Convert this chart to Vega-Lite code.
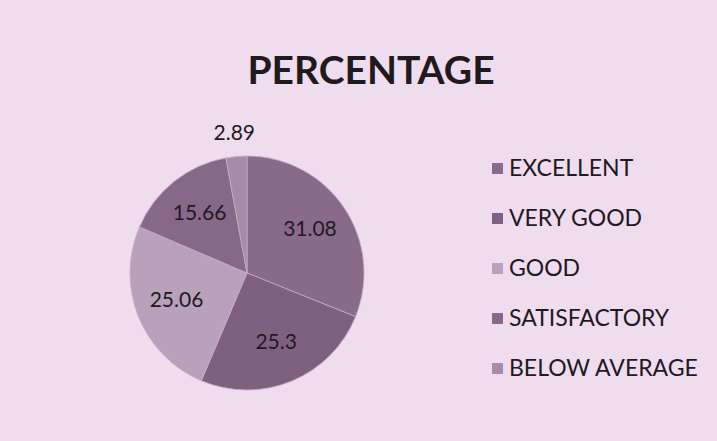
{
  "$schema": "https://vega.github.io/schema/vega-lite/v6.json",
  "width": 234,
  "height": 234,
  "autosize": "none",
  "padding": {"left": 130, "top": 156, "right": 353, "bottom": 51},
  "background": "#efdcef",
  "title": {
    "text": "PERCENTAGE",
    "font": "Lato",
    "fontWeight": "bold",
    "fontSize": 39,
    "color": "#1e1a1e",
    "anchor": "middle",
    "dx": 124,
    "offset": 31
  },
  "data": {
    "values": [
      {"category": "EXCELLENT", "value": 31.08, "order": 1},
      {"category": "VERY GOOD", "value": 25.3, "order": 2},
      {"category": "GOOD", "value": 25.06, "order": 3},
      {"category": "SATISFACTORY", "value": 15.66, "order": 4},
      {"category": "BELOW AVERAGE", "value": 2.89, "order": 5}
    ]
  },
  "encoding": {
    "theta": {"field": "value", "type": "quantitative", "stack": true},
    "order": {"field": "order", "type": "quantitative"}
  },
  "layer": [
    {
      "mark": {"type": "arc", "outerRadius": 117, "stroke": "#c4aec4", "strokeWidth": 0.8},
      "encoding": {
        "color": {
          "field": "category",
          "type": "nominal",
          "scale": {
            "domain": ["EXCELLENT", "VERY GOOD", "GOOD", "SATISFACTORY", "BELOW AVERAGE"],
            "range": ["#8a6a8a", "#806080", "#b9a1bc", "#886888", "#a98aa9"]
          },
          "legend": {
            "title": null,
            "orient": "none",
            "legendX": 356,
            "legendY": 1,
            "symbolType": "square",
            "symbolSize": 120,
            "symbolStrokeWidth": 0,
            "labelFont": "Lato",
            "labelFontSize": 23,
            "labelColor": "#1e1a1e",
            "labelLimit": 300,
            "rowPadding": 26,
            "symbolOffset": 0,
            "labelOffset": 0
          }
        }
      }
    },
    {
      "mark": {"type": "text", "radius": 76, "font": "Lato", "fontSize": 21, "color": "#1e1a1e"},
      "encoding": {
        "text": {"condition": {"test": "datum.value >= 5", "field": "value", "type": "quantitative"}, "value": ""}
      }
    },
    {
      "mark": {"type": "text", "radius": 140, "font": "Lato", "fontSize": 21, "color": "#1e1a1e"},
      "encoding": {
        "text": {"condition": {"test": "datum.value < 5", "field": "value", "type": "quantitative"}, "value": ""}
      }
    }
  ],
  "config": {"view": {"stroke": null}}
}
